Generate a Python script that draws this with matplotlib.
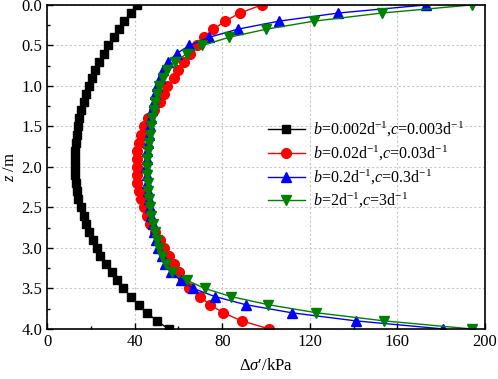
import matplotlib
matplotlib.use("Agg")
import matplotlib.pyplot as plt
import numpy as np

plt.rcParams["font.family"] = "Liberation Serif"
plt.rcParams["mathtext.fontset"] = "custom"
plt.rcParams["mathtext.rm"] = "Liberation Serif"
plt.rcParams["mathtext.it"] = "Liberation Serif:italic"
plt.rcParams["font.size"] = 12

# depth z (m), one point every 0.1 m
z = np.round(np.arange(0, 4.01, 0.1), 1)

black = [41.1, 38.4, 35.3, 32.7, 30.4, 27.8, 25.8, 23.9, 22.0, 20.4,
         19.0, 17.8, 16.7, 15.5, 14.7, 14.2, 13.5, 13.2, 12.9, 12.8,
         12.8, 12.9, 13.2, 13.5, 14.3, 15.3, 16.7, 17.9, 19.1, 21.0,
         22.6, 24.3, 27.0, 29.6, 31.9, 34.9, 38.3, 41.8, 45.6, 50.2, 55.5]
red = [98.0, 88.1, 81.3, 76.0, 71.7, 68.4, 65.3, 62.7, 60.0, 58.0,
       55.0, 53.2, 51.4, 48.9, 46.3, 44.3, 43.1, 42.2, 41.3, 41.0,
       41.0, 41.0, 41.3, 42.2, 43.1, 44.3, 45.5, 47.0, 49.3, 51.6,
       53.4, 55.9, 58.0, 60.4, 62.3, 65.0, 69.9, 74.4, 80.5, 88.9, 101.5]
blue = [173, 133, 106, 87, 74, 65, 59.2, 55.4, 53.1, 51.6,
        50.3, 49.5, 48.8, 48.1, 47.5, 47.0, 46.5, 46.1, 45.7, 45.5,
        45.4, 45.5, 45.7, 46.0, 46.4, 46.9, 47.5, 48.2, 49.0, 49.9,
        50.9, 52.3, 54.0, 56.5, 61.0, 66.8, 76.7, 90.7, 111.7, 141, 181]
green = [194, 153, 122, 100, 83, 71, 64, 58.4, 54.7, 52.8,
         51.2, 50.2, 49.3, 48.7, 48.1, 47.5, 47.0, 46.5, 46.1, 45.8,
         45.6, 45.7, 45.9, 46.2, 46.6, 47.1, 47.7, 48.4, 49.2, 50.1,
         51.2, 52.5, 54.2, 57.0, 64, 72, 84, 101, 123, 154, 194]

labels = [r"$b$=0.002d$^{-1}$,$c$=0.003d$^{-1}$",
          r"$b$=0.02d$^{-1}$,$c$=0.03d$^{-1}$",
          r"$b$=0.2d$^{-1}$,$c$=0.3d$^{-1}$",
          r"$b$=2d$^{-1}$,$c$=3d$^{-1}$"]

fig = plt.figure(figsize=(4.98, 3.79), dpi=100)
ax = fig.add_axes([0.0944, 0.132, 0.8795, 0.855])

styles = [("black", "s", 5.5), ("#ff0000", "o", 7), ("#0000ff", "^", 7), ("#008000", "v", 7)]
for vals, lab, (col, mk, ms) in zip([black, red, blue, green], labels, styles):
    ax.plot(vals, z, color=col, marker=mk, markersize=ms, linewidth=1.0, label=lab)

ax.set_xlim(0, 200)
ax.set_ylim(4.0, 0.0)
ax.set_xticks([0, 40, 80, 120, 160, 200])
ax.set_xticks([20, 60, 100, 140, 180], minor=True)
ax.set_yticks(np.arange(0, 4.01, 0.5))
ax.set_yticks(np.arange(0.25, 4.0, 0.5), minor=True)
ax.yaxis.set_major_formatter(matplotlib.ticker.FormatStrFormatter("%.1f"))
ax.tick_params(which="both", direction="in", top=False, right=False)
ax.tick_params(which="major", length=4, width=1)
ax.tick_params(which="minor", length=2.5, width=1)
ax.grid(True, which="major", linestyle=(0, (2, 2)), color="#c8c8c8", linewidth=0.8)
for s in ax.spines.values():
    s.set_linewidth(1.2)

ax.set_xlabel(r"$\mathit{\Delta\sigma}$′/kPa", labelpad=6)
ax.set_ylabel(r"$z$ /m", labelpad=2)

ax.legend(loc="upper left", bbox_to_anchor=(0.49, 0.665), frameon=False,
          handlelength=2.3, handletextpad=0.5, labelspacing=0.3,
          borderaxespad=0, fontsize=11.5)

fig.savefig("out.png", dpi=100)
